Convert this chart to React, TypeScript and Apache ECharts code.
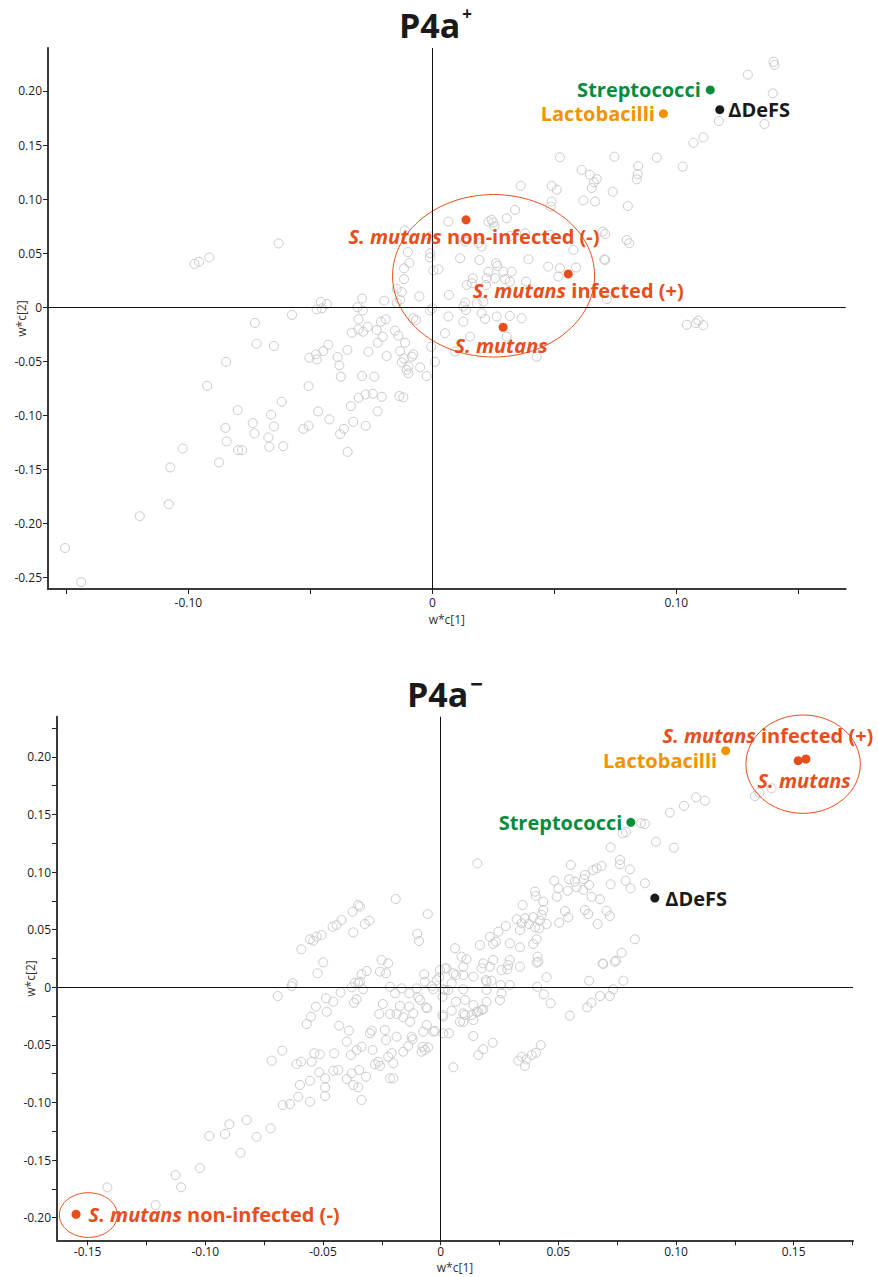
import React, { useEffect, useRef } from "react";
import * as echarts from "echarts";

// ---------- DATA ----------
const topGray: number[][] = [
  [-0.0975, 0.04], [-0.0956, 0.042], [-0.0914, 0.046], [-0.063, 0.059], [-0.0113, 0.071], [-0.01, 0.051],
  [-0.0094, 0.041], [-0.0116, 0.036], [-0.0116, 0.026], [-0.0146, 0.017], [-0.0125, 0.014], [-0.0132, 0.007],
  [-0.0146, 0.004], [-0.0053, 0.01], [-0.0009, 0.05], [-0.001, 0.046], [0.0004, 0.034], [0, -0.001],
  [-0.001, -0.003], [-0.0457, 0.005], [-0.0474, -0.002], [-0.0453, -0.001], [-0.0432, 0.003], [-0.0575, -0.007],
  [-0.0288, 0.008], [-0.0307, 0.0], [-0.0285, -0.003], [-0.0197, 0.006],
  [-0.0727, -0.0145], [-0.072, -0.0337], [-0.0649, -0.0358], [-0.0845, -0.0504], [-0.0923, -0.0726],
  [-0.0504, -0.0467], [-0.0477, -0.0435], [-0.0474, -0.0482], [-0.0447, -0.0405], [-0.0426, -0.0346],
  [-0.0388, -0.046], [-0.0381, -0.0537], [-0.0375, -0.0642], [-0.0348, -0.0395], [-0.033, -0.0235],
  [-0.0303, -0.0111], [-0.0303, -0.0204], [-0.0283, -0.0226], [-0.0265, -0.018], [-0.0262, -0.0411],
  [-0.0228, -0.021], [-0.0224, -0.0328], [-0.0203, -0.0272], [-0.0211, -0.0133], [-0.0191, -0.0111],
  [-0.0187, -0.0451], [-0.0288, -0.0636], [-0.0238, -0.0642], [-0.0153, -0.0216], [-0.0139, -0.0263],
  [-0.0132, -0.0405], [-0.0125, -0.051], [-0.0112, -0.0328], [-0.0116, -0.0473], [-0.0105, -0.058],
  [-0.0098, -0.0611], [-0.0084, -0.0457], [-0.0078, -0.0435], [-0.0078, -0.0102], [-0.0067, -0.0118],
  [-0.005, -0.0556], [-0.0023, -0.0636], [-0.0005, -0.0365], [0.0011, -0.0504], [-0.0135, -0.0821],
  [-0.0119, -0.0833], [-0.0334, -0.0914], [-0.0302, -0.0837], [-0.0273, -0.0806], [-0.0244, -0.08],
  [-0.0207, -0.0828], [-0.0224, -0.0963], [-0.0324, -0.1059], [-0.0273, -0.1096], [-0.0362, -0.1124],
  [-0.0378, -0.1173], [-0.0347, -0.1337], [-0.0422, -0.1037], [-0.0468, -0.0963], [-0.0507, -0.0729],
  [-0.0529, -0.1124], [-0.0507, -0.1096], [-0.0617, -0.0874], [-0.0661, -0.0994], [-0.0649, -0.1102],
  [-0.0672, -0.1204], [-0.0668, -0.129], [-0.0611, -0.1284], [-0.0736, -0.1071], [-0.0729, -0.1167],
  [-0.0798, -0.0951], [-0.0848, -0.1115], [-0.0843, -0.1241], [-0.0796, -0.1321], [-0.078, -0.1321],
  [-0.0874, -0.1435], [-0.1023, -0.1306], [-0.1074, -0.1481], [-0.108, -0.1821], [-0.1199, -0.1932],
  [-0.1505, -0.2226], [-0.1439, -0.2541], [-0.0098, -0.0547],
  [0.0523, 0.1386], [0.0612, 0.1271], [0.0646, 0.1225], [0.0674, 0.1185], [0.0653, 0.1102], [0.0362, 0.1123],
  [0.0489, 0.1123], [0.051, 0.1086], [0.0489, 0.0978], [0.0619, 0.0988], [0.0667, 0.0978], [0.0339, 0.09],
  [0.0305, 0.0823], [0.0243, 0.0808], [0.025, 0.0783], [0.023, 0.0792], [0.0254, 0.0746], [0.0066, 0.0792],
  [-0.0007, 0.0654], [0.0134, 0.0608], [0.0189, 0.0593], [0.0202, 0.0561], [0.0319, 0.0659], [0.038, 0.0684],
  [0.0483, 0.0668], [0.0578, 0.053], [0.0708, 0.0677], [0.0708, 0.0437], [0.0025, 0.0351], [0.0114, 0.0453],
  [0.0193, 0.0437], [0.0261, 0.0407], [0.0266, 0.0382], [0.0291, 0.0329], [0.0325, 0.0329], [0.0394, 0.0444],
  [0.0475, 0.0376], [0.0523, 0.0361], [0.0589, 0.0367], [0.0516, 0.0284], [0.023, 0.0329], [0.0223, 0.0268],
  [0.0257, 0.0268], [0.0298, 0.0259], [0.0318, 0.0237], [0.0166, 0.0268], [0.0141, 0.0206], [0.0162, 0.0222],
  [0.022, 0.0206], [0.0068, 0.0114], [0.0134, 0.0043], [0.0138, -0.0025], [0.0182, 0.0037], [0.0209, 0.0052],
  [0.0202, -0.0055], [0.0216, -0.0108], [0.0127, -0.0133], [0.0066, -0.0085], [0.0052, -0.024], [0.0155, -0.0272],
  [0.0264, -0.0085], [0.0318, -0.008], [0.0366, -0.0102], [0.0305, -0.0272], [0.0428, -0.0457], [0.0093, -0.041],
  [0.0127, 0.0007], [0.1043, -0.0162], [0.108, -0.0147], [0.109, -0.0123], [0.111, -0.0166], [0.0715, 0.0075],
  [0.1398, 0.227], [0.1402, 0.224], [0.1293, 0.215], [0.1395, 0.1978], [0.1174, 0.1722], [0.1361, 0.1694],
  [0.107, 0.1521], [0.1111, 0.1571], [0.1026, 0.13], [0.092, 0.1383], [0.0746, 0.1392], [0.0844, 0.1306],
  [0.0842, 0.1232], [0.0838, 0.1183], [0.0739, 0.1068], [0.0801, 0.0936], [0.0485, 0.093], [0.0797, 0.0622],
  [0.0807, 0.0592], [0.0698, 0.0699], [0.0704, 0.0443], [0.0384, 0.0237], [0.0662, 0.1155],
];

const bottomGray: number[][] = [
  [-0.0592, 0.033], [-0.0555, 0.0417], [-0.0541, 0.0405], [-0.0527, 0.0439], [-0.0506, 0.0454], [-0.0459, 0.0526],
  [-0.0442, 0.0541], [-0.0421, 0.0584], [-0.0374, 0.0656], [-0.035, 0.0714], [-0.0343, 0.07], [-0.0371, 0.0477],
  [-0.0322, 0.055], [-0.0303, 0.0578], [-0.0191, 0.0766], [-0.0055, 0.0636], [-0.0099, 0.0463], [-0.0092, 0.0402],
  [-0.0499, 0.0217], [-0.0523, 0.0122], [-0.0251, 0.0237], [-0.0223, 0.0208], [-0.0314, 0.0141], [-0.0336, 0.0113],
  [-0.0258, 0.0136], [-0.0232, 0.0122], [-0.007, 0.0113],
  [-0.0629, 0.0035], [-0.0633, 0.001], [-0.0692, -0.0076], [-0.0364, 0.004], [-0.035, 0.0035], [-0.0343, 0.0049],
  [-0.0378, 0], [-0.0329, -0.0017], [-0.0425, -0.0043], [-0.0357, -0.0104], [-0.0368, -0.0134], [-0.0487, -0.0095],
  [-0.0456, -0.0125], [-0.053, -0.0168], [-0.0484, -0.0212], [-0.0551, -0.0255], [-0.0569, -0.0319], [-0.0431, -0.0333],
  [-0.039, -0.0376], [-0.0399, -0.0472], [-0.0215, 0.0005], [-0.0166, -0.0009], [-0.0194, -0.0052], [-0.0133, -0.0052],
  [-0.0102, -0.0009], [-0.0095, -0.0087], [-0.0088, -0.011], [-0.0067, 0.0049], [-0.0038, 0.001], [-0.0006, 0.0087],
  [0.0011, -0.0017], [0.0025, 0.0165], [-0.0246, -0.0145], [-0.0261, -0.0232], [-0.0215, -0.0232], [-0.0187, -0.0232],
  [-0.0159, -0.026], [-0.0173, -0.0162], [-0.0133, -0.0168], [-0.013, -0.0299], [-0.0116, -0.0226], [-0.0062, -0.0174],
  [-0.0059, -0.0327], [-0.0074, -0.0385], [-0.0031, -0.0385], [0.0008, -0.024], [0.0011, -0.0399], [-0.03, -0.0399],
  [-0.0293, -0.0376], [-0.0237, -0.0371], [-0.0232, -0.0457], [-0.0187, -0.0429], [-0.0123, -0.0429], [-0.0119, -0.0451],
  [-0.0076, -0.0516], [-0.0067, -0.0544], [-0.0053, -0.0521], [-0.0081, -0.0559], [-0.0159, -0.0559], [-0.0208, -0.0573],
  [-0.0223, -0.0602], [-0.0201, -0.066], [-0.0265, -0.0646], [-0.0279, -0.0668], [-0.0289, -0.0544], [-0.0336, -0.0516],
  [-0.0357, -0.0544], [-0.0381, -0.0588], [-0.0452, -0.0573], [-0.0513, -0.0582], [-0.0537, -0.0573], [-0.0548, -0.0646],
  [-0.0593, -0.0646], [-0.0612, -0.0666], [-0.0673, -0.055], [-0.0718, -0.0637], [-0.0516, -0.0738], [-0.0491, -0.079],
  [-0.0456, -0.0724], [-0.0435, -0.0718], [-0.0378, -0.0747], [-0.0346, -0.0718], [-0.0317, -0.0776], [-0.0399, -0.0796],
  [-0.0371, -0.0848], [-0.0598, -0.0848], [-0.0555, -0.0811], [-0.0215, -0.079], [-0.0201, -0.079], [-0.0003, 0.015],
  [-0.035, -0.0868], [-0.0336, -0.0978], [-0.0491, -0.0868], [-0.0491, -0.0944], [-0.0555, -0.0993], [-0.0605, -0.095],
  [-0.064, -0.1013], [-0.0671, -0.1022], [-0.0722, -0.1224], [-0.0824, -0.1152], [-0.0898, -0.1189], [-0.0916, -0.1273],
  [-0.0782, -0.1297], [-0.0983, -0.1291], [-0.085, -0.1436], [-0.1023, -0.1569], [-0.1126, -0.163], [-0.1103, -0.1736],
  [-0.1416, -0.1736], [-0.1211, -0.189], [-0.0258, -0.0683], [-0.0138, -0.051], [-0.0024, -0.0379], [-0.0057, -0.0182],
  [0.0054, -0.0694], [0.0139, -0.0423], [0.0035, -0.0399], [0.016, -0.0588], [0.0181, -0.0538], [0.0221, -0.0481],
  [0.033, -0.0637], [0.0344, -0.0602], [0.0358, -0.0683], [0.0365, -0.0625], [0.0387, -0.0588], [0.0405, -0.0568],
  [0.0425, -0.0501], [0.0549, -0.0246], [0.0467, -0.0139], [0.0439, -0.0061], [0.041, 0.0005], [0.045, 0.0087],
  [0.0408, 0.0214], [0.0631, 0.0057], [0.0623, -0.0174], [0.0641, -0.0134], [0.0677, -0.0076], [0.0719, -0.0076],
  [0.0733, -0.0017], [0.0776, 0.0057], [0.0691, 0.0202], [0.074, 0.0222], [0.0139, -0.0284], [0.0096, -0.0226],
  [0.0082, -0.0299], [0.016, -0.0212], [0.0181, -0.0191], [0.0011, -0.0255], [0.0047, -0.0203], [0.0103, -0.011],
  [0.0195, -0.0125], [0.0252, -0.011], [0.0259, -0.0052], [0.0294, 0.002], [0.0195, -0.0023], [0.0192, 0.0063],
  [0.0216, 0.0057], [0.0287, 0.0194], [0.0337, 0.0179], [0.0283, 0.0156], [0.0096, 0.0107], [0.0096, -0.0017],
  [0.0065, -0.0125], [0.0018, -0.0023], [0.0008, -0.0082], [-0.0017, 0.0063], [-0.0031, -0.0017],
  [0.0974, 0.1516], [0.1034, 0.1574], [0.0851, 0.1424], [0.0868, 0.1418], [0.0773, 0.1337], [0.0787, 0.1348],
  [0.0915, 0.1264], [0.0991, 0.1212], [0.0722, 0.1215], [0.0762, 0.1105], [0.0762, 0.1067], [0.0804, 0.1024],
  [0.0786, 0.0925], [0.0807, 0.0859], [0.0868, 0.0903], [0.0722, 0.0894], [0.0684, 0.1053], [0.0663, 0.1033],
  [0.0648, 0.1018], [0.0553, 0.1062], [0.0546, 0.0938], [0.0613, 0.0975], [0.0609, 0.0938], [0.0631, 0.0888],
  [0.057, 0.0917], [0.0578, 0.0868], [0.0606, 0.0845], [0.05, 0.0859], [0.0483, 0.0925], [0.054, 0.0838],
  [0.0641, 0.0786], [0.0677, 0.0764], [0.0493, 0.0786], [0.0401, 0.083], [0.0404, 0.0793], [0.0348, 0.0714],
  [0.0436, 0.0743], [0.0436, 0.0671], [0.0429, 0.0628], [0.0528, 0.0662], [0.0542, 0.0608], [0.0613, 0.0671],
  [0.0627, 0.0636], [0.0705, 0.0665], [0.0719, 0.0619], [0.0667, 0.055], [0.0323, 0.059], [0.0344, 0.0556],
  [0.0358, 0.0599], [0.0393, 0.0608], [0.0422, 0.0579], [0.045, 0.055], [0.0504, 0.0561], [0.0375, 0.055],
  [0.0401, 0.0521], [0.0419, 0.0512], [0.0337, 0.0497], [0.0277, 0.0532], [0.0245, 0.0483], [0.0209, 0.0439],
  [0.0167, 0.0367], [0.0156, 0.1076], [0.0061, 0.0339], [0.0223, 0.0376], [0.0235, 0.0396], [0.0294, 0.0382],
  [0.0337, 0.0347], [0.0393, 0.0376], [0.0408, 0.0417], [0.0412, 0.0266], [0.0415, 0.0222], [0.0294, 0.0237],
  [0.0259, 0.015], [0.0223, 0.0237], [0.0209, 0.0179], [0.0181, 0.0208], [0.0174, 0.0165], [0.011, 0.0243],
  [0.0089, 0.0266], [0.0096, 0.0179], [0.0139, 0.0093], [0.0195, 0.0049], [0.0054, 0.0122], [0.0018, 0.0165],
  [0.0047, 0.0035], [0.0065, 0.0107], [0.0032, -0.0023], [0.0255, 0.002], [0.0688, 0.0208], [0.0745, 0.0231],
  [0.0769, 0.03], [0.0825, 0.0417], [0.0139, -0.0154], [0.0132, -0.024], [0.0153, -0.0212], [0.0174, -0.0197],
  [0.0103, -0.024], [0.0096, -0.0299],
  [0.1085, 0.1649], [0.1123, 0.162], [0.1335, 0.166], [0.1354, 0.1689], [0.1406, 0.1727],
];

const keyNames = [
  "Streptococci",
  "Lactobacilli",
  "ΔDeFS",
  "S. mutans non-infected (-)",
  "S. mutans infected (+)",
  "S. mutans",
];
const topKeyValues = [
  [0.1139, 0.2009], [0.0947, 0.179], [0.1178, 0.1827], [0.0138, 0.0808], [0.0557, 0.0308], [0.029, -0.0185],
];
const bottomKeyValues = [
  [0.0808, 0.1432], [0.1211, 0.2054], [0.091, 0.0775], [-0.1549, -0.197], [0.1552, 0.1982], [0.1519, 0.1967],
];

const topXTicks = [-0.15, -0.1, -0.05, 0, 0.05, 0.1, 0.15];
const topXLabels = [-0.1, 0, 0.1];
const topYTicks = [-0.25, -0.2, -0.15, -0.1, -0.05, 0, 0.05, 0.1, 0.15, 0.2];
const bottomXTicks = [-0.15, -0.125, -0.1, -0.075, -0.05, -0.025, 0, 0.025, 0.05, 0.075, 0.1, 0.125, 0.15, 0.175];
const bottomXLabels = [-0.15, -0.1, -0.05, 0, 0.05, 0.1, 0.15];
const bottomYTicks = [-0.2, -0.175, -0.15, -0.125, -0.1, -0.075, -0.05, -0.025, 0, 0.025, 0.05, 0.075, 0.1, 0.125, 0.15, 0.175, 0.2, 0.225];
const bottomYLabels = [-0.2, -0.15, -0.1, -0.05, 0, 0.05, 0.1, 0.15, 0.2];

// ellipse annotations in data units: [cx, cy, rx, ry]
const topEllipses = [[0.0251, 0.0291, 0.0414, 0.0751]];
const bottomEllipses = [
  [0.154, 0.1937, 0.0243, 0.0427],
  [-0.1497, -0.1977, 0.0123, 0.0194],
];

// ---------- STYLE ----------
const RED = "#e84e1b";
const keyColor: Record<string, string> = {
  Streptococci: "#078c3c",
  Lactobacilli: "#f39200",
  "ΔDeFS": "#1a1a1a",
};
const FONT = "'Open Sans', 'Noto Sans', sans-serif";
const KEY_FS = 20;

const topLabelCfg: Record<string, any> = {
  Streptococci: { position: "left", distance: 5 },
  Lactobacilli: { position: "left", distance: 4 },
  "ΔDeFS": { position: "right", distance: 4 },
  "S. mutans non-infected (-)": { position: "inside", offset: [8, 17] },
  "S. mutans infected (+)": { position: "inside", offset: [10, 17] },
  "S. mutans": { position: "inside", offset: [-2, 18] },
};
const bottomLabelCfg: Record<string, any> = {
  Streptococci: { position: "left", distance: 4 },
  Lactobacilli: { position: "left", distance: 4, offset: [0, 10] },
  "ΔDeFS": { position: "right", distance: 6 },
  "S. mutans non-infected (-)": { position: "right", distance: 8 },
  "S. mutans infected (+)": { position: "inside", offset: [-38, -23] },
  "S. mutans": { position: "inside", offset: [6, 20] },
};

const fmt = (v: number) => (Math.abs(v) < 1e-9 ? "0" : v.toFixed(2));

function xAxis(gridIndex: number, min: number, max: number, ticks: number[], labels: number[], nameGap: number, margin: number) {
  return {
    type: "value",
    gridIndex,
    min,
    max,
    name: "w*c[1]",
    nameLocation: "middle",
    nameGap,
    nameMoveOverlap: false,
    nameTextStyle: { color: "#333", fontSize: 12, fontFamily: FONT },
    axisLine: { show: true, onZero: false, lineStyle: { color: "#3a3a3a", width: 2 } },
    axisTick: { show: true, length: 5, customValues: ticks, lineStyle: { color: "#222", width: 1 } },
    axisLabel: { customValues: labels, formatter: fmt, margin, color: "#1a1a1a", fontSize: 12, fontFamily: FONT },
    splitLine: { show: false },
  };
}
function yAxis(gridIndex: number, min: number, max: number, ticks: number[], labels: number[]) {
  return {
    type: "value",
    gridIndex,
    min,
    max,
    position: "left",
    name: "w*c[2]",
    nameLocation: "middle",
    nameGap: 21,
    nameMoveOverlap: false,
    nameTextStyle: { color: "#333", fontSize: 12, fontFamily: FONT },
    axisLine: { show: true, onZero: false, lineStyle: { color: "#3a3a3a", width: 2 } },
    axisTick: { show: true, length: 5, customValues: ticks, lineStyle: { color: "#222", width: 1 } },
    axisLabel: { customValues: labels, formatter: fmt, margin: 6, color: "#1a1a1a", fontSize: 12, fontFamily: FONT },
    splitLine: { show: false },
  };
}

function graySeries(idx: number, data: number[][]) {
  return {
    type: "scatter",
    xAxisIndex: idx,
    yAxisIndex: idx,
    data,
    symbol: "circle",
    symbolSize: 9,
    itemStyle: { color: "rgba(0,0,0,0)", borderColor: "#c9c9c9", borderWidth: 1, opacity: 1 },
    emphasis: { disabled: true },
    silent: true,
    z: 2,
    markLine: {
      silent: true,
      symbol: ["none", "none"],
      label: { show: false },
      lineStyle: { color: "#111", width: 1, type: "solid", opacity: 1 },
      emphasis: { disabled: true },
      data: [{ xAxis: 0 }, { yAxis: 0 }],
    },
  };
}

function keySeries(idx: number, values: number[][], cfg: Record<string, any>) {
  return {
    type: "scatter",
    xAxisIndex: idx,
    yAxisIndex: idx,
    symbol: "circle",
    symbolSize: 9,
    emphasis: { disabled: true },
    silent: true,
    z: 5,
    data: values.map((v, i) => {
      const name = keyNames[i];
      const color = keyColor[name] || RED;
      const italic = name.startsWith("S. mutans");
      return {
        name,
        value: v,
        itemStyle: { color, opacity: 1 },
        label: {
          show: true,
          ...cfg[name],
          color,
          opacity: 1,
          fontSize: KEY_FS,
          fontWeight: 700,
          fontFamily: FONT,
          formatter: italic ? "{i|S. mutans}" + name.slice(9) : name,
          rich: {
            i: { fontStyle: "italic", fontWeight: 700, fontSize: KEY_FS, color, fontFamily: FONT },
          },
        },
      };
    }),
  };
}

function titleOf(sign: string, left: number, top: number, sFont: number, sLine: number) {
  return {
    text: "{a|P4a}{s|" + sign + "}",
    left,
    top,
    padding: 0,
    textStyle: {
      rich: {
        a: { fontSize: 34, fontWeight: 700, color: "#1a1a1a", fontFamily: FONT, lineHeight: 40 },
        s: { fontSize: sFont, fontWeight: 700, color: "#1a1a1a", fontFamily: FONT, lineHeight: sLine, verticalAlign: "top", padding: [0, 0, 0, 2] },
      },
    },
  };
}

export default function App() {
  const ref = useRef<HTMLDivElement>(null);
  useEffect(() => {
    if (!ref.current) return;
    const chart = echarts.init(ref.current, undefined, { renderer: "svg" });
    const option: any = {
      animation: false,
      backgroundColor: "#ffffff",
      title: [titleOf("+", 399, 5, 17, 30), titleOf("−", 407, 672, 22, 44)],
      grid: [
        { left: 48, top: 48, width: 797.7, height: 541, containLabel: false, outerBoundsMode: "none" },
        { left: 57, top: 716.7, width: 796, height: 523.6, containLabel: false, outerBoundsMode: "none" },
      ],
      xAxis: [
        xAxis(0, -0.1575, 0.1694, topXTicks, topXLabels, 24, 7),
        xAxis(1, -0.163, 0.1752, bottomXTicks, bottomXLabels, 21, 5),
      ],
      yAxis: [
        yAxis(0, -0.2605, 0.2397, topYTicks, topYTicks),
        yAxis(1, -0.2196, 0.2349, bottomYTicks, bottomYLabels),
      ],
      series: [
        graySeries(0, topGray),
        graySeries(1, bottomGray),
        keySeries(0, topKeyValues, topLabelCfg),
        keySeries(1, bottomKeyValues, bottomLabelCfg),
      ],
    };
    chart.setOption(option);

    const ell = (gridIndex: number, e: number[]) => {
      const c = chart.convertToPixel({ gridIndex } as any, [e[0], e[1]]) as number[];
      const p = chart.convertToPixel({ gridIndex } as any, [e[0] + e[2], e[1] + e[3]]) as number[];
      return {
        type: "ellipse",
        silent: true,
        z: 4,
        shape: { cx: c[0], cy: c[1], rx: Math.abs(p[0] - c[0]), ry: Math.abs(p[1] - c[1]) },
        style: { fill: "none", stroke: RED, lineWidth: 1 },
      };
    };
    chart.setOption({
      graphic: [
        ...topEllipses.map((e) => ell(0, e)),
        ...bottomEllipses.map((e) => ell(1, e)),
      ],
    });
    return () => chart.dispose();
  }, []);
  return <div ref={ref} style={{ position: "fixed", left: 0, top: 0, width: 878, height: 1277 }} />;
}
